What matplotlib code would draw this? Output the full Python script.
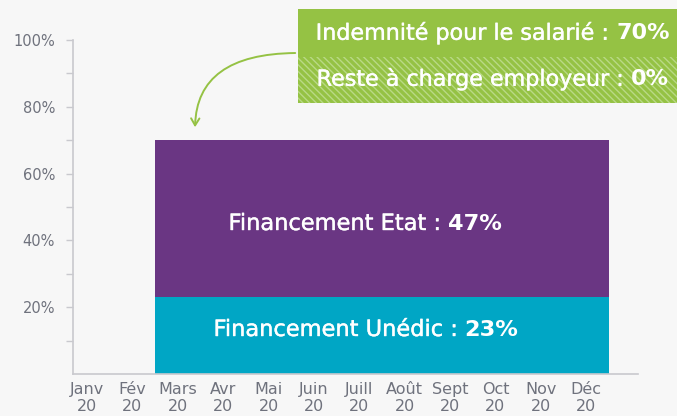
import matplotlib
matplotlib.use("Agg")
import matplotlib.pyplot as plt
from matplotlib.patches import Rectangle, FancyArrowPatch
import matplotlib.patheffects as pe
import numpy as np

# ---- data ----
months = ["Janv\n20", "Fév\n20", "Mars\n20", "Avr\n20", "Mai\n20", "Juin\n20",
          "Juill\n20", "Août\n20", "Sept\n20", "Oct\n20", "Nov\n20", "Déc\n20"]
unedic = [0, 0, 23, 23, 23, 23, 23, 23, 23, 23, 23, 23]
etat = [0, 0, 47, 47, 47, 47, 47, 47, 47, 47, 47, 47]
yticks = [20, 40, 60, 80, 100]
ytick_labels = ["20%", "40%", "60%", "80%", "100%"]
indemnite = 70
reste = 0

BG = "#f7f7f7"
PURPLE = "#6a3683"
TEAL = "#00a6c5"
GREEN = "#95c244"
GREEN_LIGHT = "#b9d985"
GRAY = "#6f727d"
SPINE = "#c9c9ce"
FONT = "DejaVu Sans"

plt.rcParams['font.family'] = [FONT]

W, H = 677, 416
fig = plt.figure(figsize=(W / 100, H / 100), dpi=100, facecolor=BG)
ax = fig.add_axes([73 / W, 1 - 374 / H, (638 - 73) / W, (374 - 40) / H], facecolor=BG)

x = np.arange(len(months))
ax.bar(x, unedic, width=1.0, color=TEAL, linewidth=0)
ax.bar(x, etat, width=1.0, bottom=unedic, color=PURPLE, linewidth=0)

ax.set_xlim(-0.308, 12.14)
ax.set_ylim(0, 100)

for s in ["top", "right"]:
    ax.spines[s].set_visible(False)
for s in ["left", "bottom"]:
    ax.spines[s].set_color(SPINE)
    ax.spines[s].set_linewidth(1.2)

ax.set_yticks(yticks)
ax.set_yticklabels(ytick_labels)
ax.set_yticks([10, 30, 50, 70, 90], minor=True)
ax.tick_params(axis="y", which="both", length=5, width=1, color=SPINE, direction="out")
ax.tick_params(axis="y", which="major", labelsize=10.5, labelcolor=GRAY, pad=8)

ax.set_xticks(x)
ax.set_xticklabels(months, linespacing=1.15)
ax.tick_params(axis="x", length=0, labelsize=11.5, labelcolor=GRAY, pad=6)

fig.canvas.draw()
renderer = fig.canvas.get_renderer()

stroke = [pe.withStroke(linewidth=0.3, foreground="white")]


def two_part(xf, yf, a, b, size, color="white"):
    t1 = fig.text(xf, yf, a, fontsize=size, weight="normal", color=color,
                  ha="left", va="center", path_effects=stroke)
    t2 = fig.text(xf, yf, b, fontsize=size, weight="bold", color=color,
                  ha="left", va="center")
    w1 = t1.get_window_extent(renderer).width / fig.bbox.width
    w2 = t2.get_window_extent(renderer).width / fig.bbox.width
    start = xf - (w1 + w2) / 2
    t1.set_x(start)
    t2.set_x(start + w1)


# bar labels (positions in pixels converted to figure fraction)
two_part(365 / W, 1 - 224 / H, "Financement Etat : ", f"{etat[-1]}%", 16.2)
two_part(366 / W, 1 - 330 / H, "Financement Unédic : ", f"{unedic[-1]}%", 16.2)

# green box
top = Rectangle((298 / W, 1 - 57 / H), 400 / W, 48 / H, transform=fig.transFigure,
                facecolor=GREEN, edgecolor=GREEN, linewidth=0)
bot = Rectangle((298 / W, 1 - 103 / H), 400 / W, 46 / H, transform=fig.transFigure,
                facecolor=GREEN, edgecolor=GREEN_LIGHT, linewidth=0, hatch="\\" * 5)
fig.patches.extend([top, bot])
two_part(493 / W, 1 - 33 / H, "Indemnité pour le salarié : ", f"{indemnite}%", 16)
two_part(493 / W, 1 - 79 / H, "Reste à charge employeur : ", f"{reste}%", 16)

# curved arrow
arrow = FancyArrowPatch((298, H - 53), (195, H - 130), transform=None,
                        connectionstyle="angle3,angleA=0,angleB=90",
                        arrowstyle="->,head_length=5,head_width=3",
                        color=GREEN, linewidth=1.4, mutation_scale=1)
fig.patches.append(arrow)

fig.savefig("out.png", dpi=100, facecolor=BG)
